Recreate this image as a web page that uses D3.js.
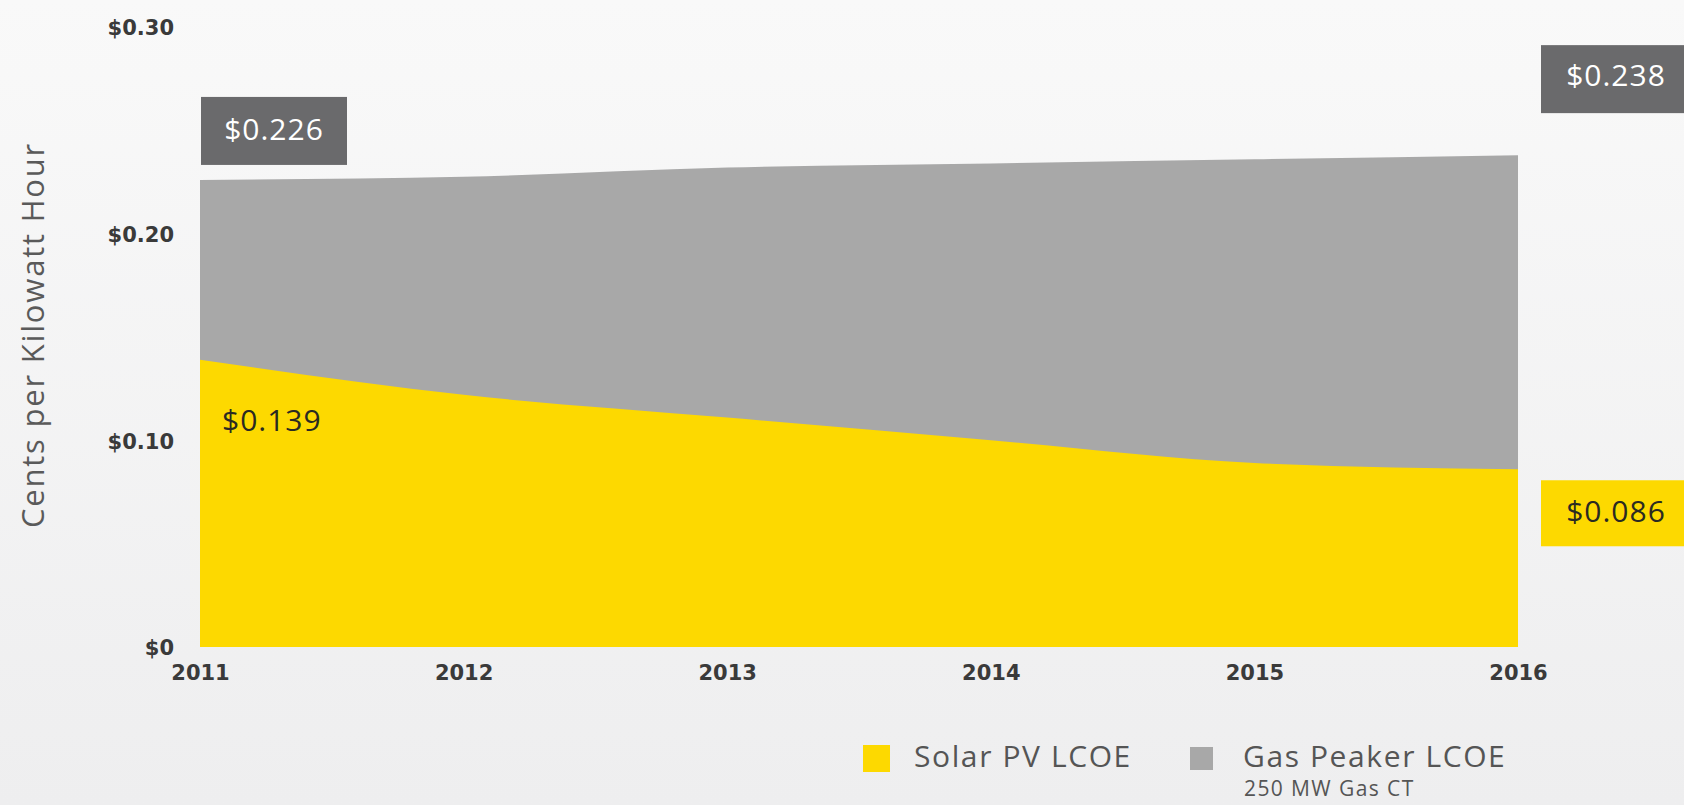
<!DOCTYPE html>
<html>
<head>
<meta charset="utf-8">
<script src="https://cdn.jsdelivr.net/npm/d3@7"></script>
<style>
  html, body { margin: 0; padding: 0; }
  body { width: 1684px; height: 805px; overflow: hidden; }
  svg { display: block; }
</style>
</head>
<body>
<svg id="chart" width="1684" height="805"></svg>
<script>
// Levelized cost of electricity, $ per kWh
const years = [2011, 2012, 2013, 2014, 2015, 2016];
const solarPV = [0.139, 0.122, 0.111, 0.100, 0.089, 0.086];
const gasPeaker = [0.226, 0.2275, 0.232, 0.234, 0.236, 0.238];
const yTicks = [0, 0.10, 0.20, 0.30];
const yTickLabels = ["$0", "$0.10", "$0.20", "$0.30"];
const legendItems = ["Solar PV LCOE", "Gas Peaker LCOE"];
const legendNote = "250 MW Gas CT";
const axisTitle = "Cents per Kilowatt Hour";

const W = 1684, H = 805;
const YELLOW = "#fdd900";
const GRAY = "#a8a8a8";
const DARKBOX = "#6a6a6c";

const svg = d3.select("#chart");

// soft background wash
const defs = svg.append("defs");
const bg = defs.append("linearGradient").attr("id", "bg").attr("x1", 0).attr("y1", 0).attr("x2", 0).attr("y2", 1);
bg.append("stop").attr("offset", "0%").attr("stop-color", "#f9f9f9");
bg.append("stop").attr("offset", "100%").attr("stop-color", "#eeeeef");
svg.append("rect").attr("width", W).attr("height", H).attr("fill", "url(#bg)");

const x = d3.scaleLinear().domain([2011, 2016]).range([200, 1518]);
const y = d3.scaleLinear().domain([0, 0.30]).range([647, 27]);

const rows = years.map((yr, i) => ({ yr, solar: solarPV[i], gas: gasPeaker[i] }));

// gas peaker area (behind), solar area (front)
const gasArea = d3.area().x(d => x(d.yr)).y0(y(0)).y1(d => y(d.gas)).curve(d3.curveMonotoneX);
const solarArea = d3.area().x(d => x(d.yr)).y0(y(0)).y1(d => y(d.solar)).curve(d3.curveMonotoneX);

svg.append("path").datum(rows).attr("d", gasArea).attr("fill", GRAY);
svg.append("path").datum(rows).attr("d", solarArea).attr("fill", YELLOW);

// y axis labels
const yAxis = d3.axisLeft(y).tickValues(yTicks).tickFormat((d, i) => yTickLabels[i]).tickSize(0).tickPadding(0);
const gy = svg.append("g").attr("transform", "translate(174,1)").call(yAxis);
gy.select(".domain").remove();
gy.selectAll("text")
  .attr("font-family", "DejaVu Sans, sans-serif")
  .attr("font-weight", "bold")
  .attr("font-size", 21)
  .attr("fill", "#3a3a3a");

// x axis labels
const xAxis = d3.axisBottom(x).tickValues(years).tickFormat(d3.format("d")).tickSize(0).tickPadding(0);
const gx = svg.append("g").attr("transform", "translate(0,665)").call(xAxis);
gx.select(".domain").remove();
gx.selectAll("text")
  .attr("font-family", "DejaVu Sans, sans-serif")
  .attr("font-weight", "bold")
  .attr("font-size", 21)
  .attr("fill", "#3a3a3a");

// axis title
svg.append("text")
  .attr("transform", "translate(44,335) rotate(-90)")
  .attr("text-anchor", "middle")
  .attr("font-family", "Open Sans, sans-serif")
  .attr("font-size", 31)
  .attr("letter-spacing", 1.8)
  .attr("fill", "#5a5a5a")
  .text(axisTitle);

const valueFont = "Open Sans, sans-serif";

// start value of gas peaker
const g226 = svg.append("g");
g226.append("rect")
  .attr("x", x(years[0]) + 1).attr("y", y(gasPeaker[0]) - 83)
  .attr("width", 146).attr("height", 68).attr("fill", DARKBOX);
g226.append("text")
  .attr("x", x(years[0]) + 74).attr("y", y(gasPeaker[0]) - 50)
  .attr("dy", "0.35em").attr("text-anchor", "middle")
  .attr("font-family", valueFont).attr("font-size", 30).attr("letter-spacing", 1)
  .attr("fill", "#ffffff")
  .text("$" + gasPeaker[0].toFixed(3));

// end value of gas peaker
const last = years.length - 1;
const g238 = svg.append("g");
g238.append("rect")
  .attr("x", x(years[last]) + 23).attr("y", y(gasPeaker[last]) - 110)
  .attr("width", 143).attr("height", 68).attr("fill", DARKBOX);
g238.append("text")
  .attr("x", x(years[last]) + 98).attr("y", y(gasPeaker[last]) - 80)
  .attr("dy", "0.35em").attr("text-anchor", "middle")
  .attr("font-family", valueFont).attr("font-size", 30).attr("letter-spacing", 1)
  .attr("fill", "#ffffff")
  .text("$" + gasPeaker[last].toFixed(3));

// end value of solar
const g086 = svg.append("g");
g086.append("rect")
  .attr("x", x(years[last]) + 23).attr("y", y(solarPV[last]) + 11)
  .attr("width", 143).attr("height", 66).attr("fill", YELLOW);
g086.append("text")
  .attr("x", x(years[last]) + 98).attr("y", y(solarPV[last]) + 42)
  .attr("dy", "0.35em").attr("text-anchor", "middle")
  .attr("font-family", valueFont).attr("font-size", 30).attr("letter-spacing", 1)
  .attr("fill", "#2a2a22")
  .text("$" + solarPV[last].toFixed(3));

// start value of solar
svg.append("text")
  .attr("x", x(years[0]) + 22).attr("y", y(solarPV[0]) + 61)
  .attr("dy", "0.35em")
  .attr("font-family", valueFont).attr("font-size", 30).attr("letter-spacing", 1)
  .attr("fill", "#2a2a22")
  .text("$" + solarPV[0].toFixed(3));

// legend
const legend = svg.append("g").attr("font-family", "Open Sans, sans-serif");
legend.append("rect").attr("x", 863).attr("y", 745).attr("width", 27).attr("height", 27).attr("fill", YELLOW);
legend.append("text").attr("x", 914).attr("y", 756).attr("dy", "0.35em")
  .attr("font-size", 30).attr("letter-spacing", 1.6).attr("fill", "#555555").text(legendItems[0]);
legend.append("rect").attr("x", 1190).attr("y", 747).attr("width", 23).attr("height", 23).attr("fill", GRAY);
legend.append("text").attr("x", 1243).attr("y", 756).attr("dy", "0.35em")
  .attr("font-size", 30).attr("letter-spacing", 1.6).attr("fill", "#555555").text(legendItems[1]);
legend.append("text").attr("x", 1244).attr("y", 789).attr("dy", "0.35em")
  .attr("font-size", 21).attr("letter-spacing", 1.4).attr("fill", "#555555").text(legendNote);
</script>
</body>
</html>
